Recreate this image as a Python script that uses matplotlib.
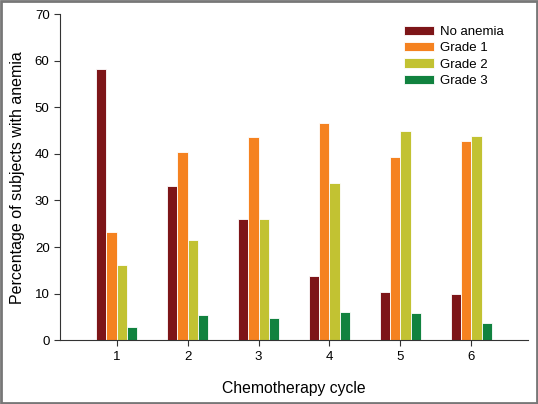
import matplotlib.pyplot as plt
import numpy as np
from matplotlib.patches import Rectangle

plt.rcParams['font.family'] = ['Liberation Sans', 'DejaVu Sans']

# ---------- data ----------
cycles = ["1", "2", "3", "4", "5", "6"]
series = ["No anemia", "Grade 1", "Grade 2", "Grade 3"]
no_anemia = [58.1, 33.1, 26.0, 13.9, 10.4, 9.9]
grade1 = [23.3, 40.3, 43.6, 46.6, 39.3, 42.8]
grade2 = [16.2, 21.5, 26.0, 33.8, 44.9, 43.9]
grade3 = [2.8, 5.5, 4.7, 6.0, 5.8, 3.8]
colors = ["#7d1518", "#f58220", "#c2c232", "#11823f"]

# ---------- plot ----------
fig = plt.figure(figsize=(5.38, 4.04), dpi=100)
ax = fig.add_axes([0.1115, 0.1577, 0.87, 0.8076])

x = np.arange(1, len(cycles) + 1)
step = 0.145
offsets = (np.arange(len(series)) - 1.5) * step
for i, (vals, label) in enumerate(zip([no_anemia, grade1, grade2, grade3], series)):
    ax.bar(x + offsets[i], vals, width=step, color=colors[i], label=label,
           edgecolor="white", linewidth=0.6)

ax.set_xlim(0.2, 6.8)
ax.set_ylim(0, 70)
ax.set_xticks(x)
ax.set_xticklabels(cycles)
ax.set_yticks(np.arange(0, 71, 10))
ax.tick_params(axis="both", labelsize=9.5, length=4, width=0.8, color="#333333")
ax.spines["top"].set_visible(False)
ax.spines["right"].set_visible(False)
for s in ["left", "bottom"]:
    ax.spines[s].set_linewidth(0.8)
    ax.spines[s].set_color("#333333")

ax.set_xlabel("Chemotherapy cycle", fontsize=11.3, labelpad=13)
ax.set_ylabel("Percentage of subjects with anemia", fontsize=11.5, labelpad=7)

ax.legend(loc="upper left", bbox_to_anchor=(404 / 538, 1 - 26 / 404),
          bbox_transform=fig.transFigure, frameon=False,
          fontsize=9.5, handlelength=2.27, handleheight=0.68,
          labelspacing=0.31, handletextpad=0.49,
          borderpad=0, borderaxespad=0)

# grey frame around the whole image
fig.patches.append(Rectangle((0.002, 0.002), 0.996, 0.996, transform=fig.transFigure,
                             fill=False, edgecolor="#777777", linewidth=2))

fig.savefig("out.png", dpi=100)
